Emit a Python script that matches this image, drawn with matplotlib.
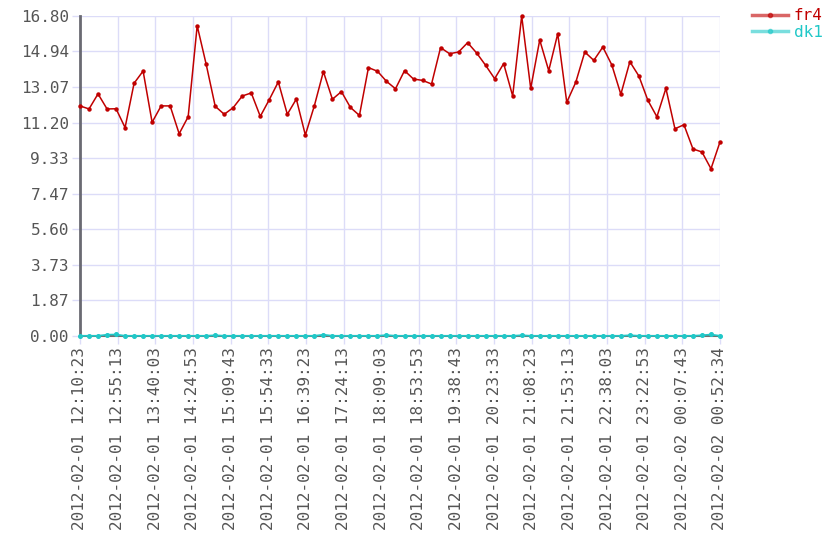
import numpy as np
import matplotlib
matplotlib.use("Agg")
import matplotlib.pyplot as plt
from matplotlib.lines import Line2D

# ---- data ----
span_seconds = 45731  # 12:10:23 -> 00:52:34 next day

fr4 = [12.08, 11.92, 12.71, 11.92, 11.93, 10.94, 13.27, 13.91, 11.22, 12.08,
       12.08, 10.62, 11.51, 16.29, 14.26, 12.06, 11.64, 11.99, 12.60, 12.76,
       11.53, 12.41, 13.34, 11.64, 12.44, 10.55, 12.09, 13.88, 12.43, 12.83,
       12.00, 11.58, 14.09, 13.90, 13.37, 12.98, 13.93, 13.49, 13.42, 13.23,
       15.14, 14.82, 14.91, 15.40, 14.86, 14.21, 13.51, 14.30, 12.60, 16.80,
       13.00, 15.54, 13.93, 15.87, 12.27, 13.32, 14.91, 14.47, 15.17, 14.23,
       12.69, 14.40, 13.65, 12.37, 11.51, 13.00, 10.88, 11.09, 9.82, 9.66,
       8.78, 10.19]

dk1 = [0.01, 0.01, 0.01, 0.07, 0.08, 0.01, 0.01, 0.01, 0.01, 0.01,
       0.01, 0.01, 0.01, 0.01, 0.01, 0.04, 0.01, 0.01, 0.01, 0.01,
       0.01, 0.01, 0.01, 0.01, 0.01, 0.01, 0.01, 0.07, 0.01, 0.01,
       0.01, 0.01, 0.01, 0.01, 0.05, 0.01, 0.01, 0.01, 0.01, 0.01,
       0.01, 0.01, 0.01, 0.01, 0.01, 0.01, 0.01, 0.01, 0.01, 0.04,
       0.01, 0.01, 0.01, 0.01, 0.01, 0.01, 0.01, 0.01, 0.01, 0.01,
       0.01, 0.04, 0.01, 0.01, 0.01, 0.01, 0.01, 0.01, 0.01, 0.04,
       0.08, 0.01]

x_labels = ["2012-02-01 12:10:23", "2012-02-01 12:55:13", "2012-02-01 13:40:03",
            "2012-02-01 14:24:53", "2012-02-01 15:09:43", "2012-02-01 15:54:33",
            "2012-02-01 16:39:23", "2012-02-01 17:24:13", "2012-02-01 18:09:03",
            "2012-02-01 18:53:53", "2012-02-01 19:38:43", "2012-02-01 20:23:33",
            "2012-02-01 21:08:23", "2012-02-01 21:53:13", "2012-02-01 22:38:03",
            "2012-02-01 23:22:53", "2012-02-02 00:07:43", "2012-02-02 00:52:34"]

y_ticks = [0.00, 1.87, 3.73, 5.60, 7.47, 9.33, 11.20, 13.07, 14.94, 16.80]

series_names = ["fr4", "dk1"]
series_colors = ["#c00000", "#20c8c8"]

# ---- plot ----
fig = plt.figure(figsize=(8.4, 5.6), dpi=100)
ax = fig.add_axes([80/840, 1-336/560, 640/840, 320/560])

t = np.linspace(0, span_seconds, len(fr4))
ax.plot(t, fr4, color=series_colors[0], lw=1.1, marker='o', ms=2.2,
        mec=series_colors[0], mfc=series_colors[0], zorder=3, clip_on=False)
ax.plot(t, dk1, color=series_colors[1], lw=1.2, marker='o', ms=2.6,
        mec=series_colors[1], mfc=series_colors[1], zorder=4, clip_on=False)

ax.set_xlim(0, span_seconds)
ax.set_ylim(0, 16.80)

tick_pos = np.linspace(0, span_seconds, len(x_labels))
ax.set_xticks(tick_pos)
ax.set_xticklabels(x_labels, rotation=90, va='top', ha='center',
                   family='DejaVu Sans Mono', fontsize=11.5, color='#555555')
ax.set_yticks(y_ticks)
ax.set_yticklabels([f"{v:.2f}" for v in y_ticks], family='DejaVu Sans Mono',
                   fontsize=11.5, color='#555555')

grid_color = '#dcdcf8'
ax.grid(True, color=grid_color, lw=1.0, zorder=0)
ax.set_axisbelow(True)
ax.tick_params(axis='both', color=grid_color, length=6, width=1.0, pad=2)

for s in ['top', 'right']:
    ax.spines[s].set_visible(False)
ax.spines['left'].set_color('#6a6a72')
ax.spines['left'].set_linewidth(2.0)
ax.spines['bottom'].set_color('#707070')
ax.spines['bottom'].set_linewidth(1.5)

handles = [Line2D([0], [0], color=c, lw=2.5, alpha=0.6, marker='o', ms=3,
                  mfc=c, mec=c) for c in series_colors]
leg = fig.legend(handles, series_names, loc='upper left',
                 bbox_to_anchor=(746/840, 1-2/560), frameon=False,
                 prop={'family': 'DejaVu Sans Mono', 'size': 11.5},
                 handlelength=2.2, handletextpad=0.4, labelspacing=0.1,
                 borderaxespad=0)
for txt, c in zip(leg.get_texts(), series_colors):
    txt.set_color(c)

fig.savefig("out.png", dpi=100)
